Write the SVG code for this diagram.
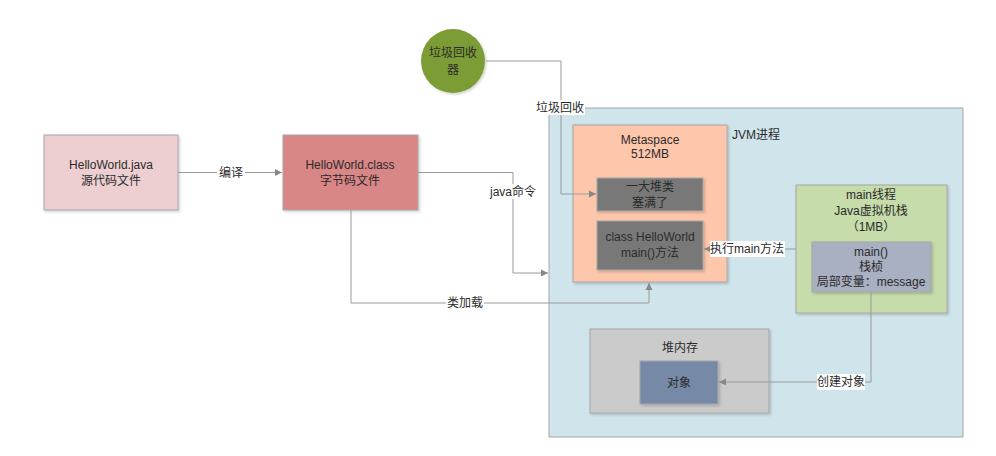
<svg xmlns="http://www.w3.org/2000/svg" width="996" height="456" viewBox="0 0 996 456">
<style>
text{font-family:"Liberation Sans","Noto Sans CJK SC",sans-serif;font-size:12px;fill:#2b2b2b;text-anchor:middle;dominant-baseline:central}
.box{stroke:#a6a6a6;stroke-width:1}
.ln{fill:none;stroke:#9a9a9a;stroke-width:1}
.lb{fill:#fff}
</style>
<defs>
<marker id="ah" viewBox="0 0 8 8" refX="7" refY="4" markerWidth="8" markerHeight="8" orient="auto" markerUnits="userSpaceOnUse">
<path d="M0,0.5 L7,4 L0,7.5 Z" fill="#888"/>
</marker>
<filter id="sh" x="-10%" y="-10%" width="130%" height="130%">
<feDropShadow dx="1.5" dy="1.5" stdDeviation="1" flood-color="#000" flood-opacity="0.18"/>
</filter>
</defs>
<rect width="996" height="456" fill="#fff"/>

<g id="jvm">
<rect class="box" x="549" y="108" width="414" height="329" fill="#cfe4eb"/>
<text x="756" y="135">JVM进程</text>
</g>

<g id="java-src">
<rect class="box" x="44" y="135" width="134" height="75" fill="#eecfd1" filter="url(#sh)"/>
<text x="111" y="165">HelloWorld.java</text>
<text x="111" y="181">源代码文件</text>
</g>

<g id="class-file">
<rect class="box" x="283" y="135" width="135" height="75" fill="#d98686" filter="url(#sh)"/>
<text x="350" y="165">HelloWorld.class</text>
<text x="350" y="181">字节码文件</text>
</g>

<g id="gc">
<circle cx="453" cy="61" r="32" fill="#7b9c36" filter="url(#sh)"/>
<text x="453" y="53">垃圾回收</text>
<text x="453" y="70">器</text>
</g>

<g id="metaspace">
<rect class="box" x="573" y="125" width="154" height="157" fill="#fec6ab" filter="url(#sh)"/>
<text x="650" y="140">Metaspace</text>
<text x="650" y="154">512MB</text>
</g>

<g id="classes-full">
<rect class="box" x="597" y="178" width="106" height="33" fill="#787878" filter="url(#sh)"/>
<text x="650" y="187">一大堆类</text>
<text x="650" y="203">塞满了</text>
</g>

<g id="class-hw">
<rect class="box" x="597" y="221" width="106" height="49" fill="#787878" filter="url(#sh)"/>
<text x="650" y="237">class HelloWorld</text>
<text x="650" y="253">main()方法</text>
</g>

<g id="main-thread">
<rect class="box" x="796" y="185" width="151" height="128" fill="#c6dcaa" filter="url(#sh)"/>
<text x="871" y="195">main线程</text>
<text x="871" y="211">Java虚拟机栈</text>
<text x="871" y="227">（1MB）</text>
</g>

<g id="main-frame">
<rect class="box" x="812" y="242" width="119" height="50" fill="#a9b0c1" filter="url(#sh)"/>
<text x="871" y="252">main()</text>
<text x="871" y="267">栈桢</text>
<text x="871" y="282">局部变量：message</text>
</g>

<g id="heap">
<rect class="box" x="590" y="329" width="179" height="84" fill="#cbcbcb" filter="url(#sh)"/>
<text x="680" y="348">堆内存</text>
</g>

<g id="object">
<rect class="box" x="640" y="361" width="78" height="43" fill="#7689a7" filter="url(#sh)"/>
<text x="679" y="383">对象</text>
</g>

<g id="connectors">
<path class="ln" d="M178,172.5 H282" marker-end="url(#ah)"/>
<rect class="lb" x="217" y="165" width="28" height="15"/>
<text x="231" y="172.5">编译</text>

<path class="ln" d="M486,61 H561 V194 H596" marker-end="url(#ah)"/>
<rect class="lb" x="536" y="100" width="49" height="15"/>
<text x="560" y="107.5">垃圾回收</text>

<path class="ln" d="M418,172.5 H513 V273 H548" marker-end="url(#ah)"/>
<rect class="lb" x="488" y="184" width="50" height="15"/>
<text x="513" y="191.5">java命令</text>

<path class="ln" d="M351,210 V303 H649 V283" marker-end="url(#ah)"/>
<rect class="lb" x="446" y="296" width="38" height="15"/>
<text x="465" y="303">类加载</text>

<path class="ln" d="M796,249 H704" marker-end="url(#ah)"/>
<rect class="lb" x="710" y="241" width="75" height="16"/>
<text x="747" y="249">执行main方法</text>

<path class="ln" d="M871,292 V382 H719" marker-end="url(#ah)"/>
<rect class="lb" x="817" y="374" width="48" height="16"/>
<text x="841" y="382">创建对象</text>
</g>
</svg>
